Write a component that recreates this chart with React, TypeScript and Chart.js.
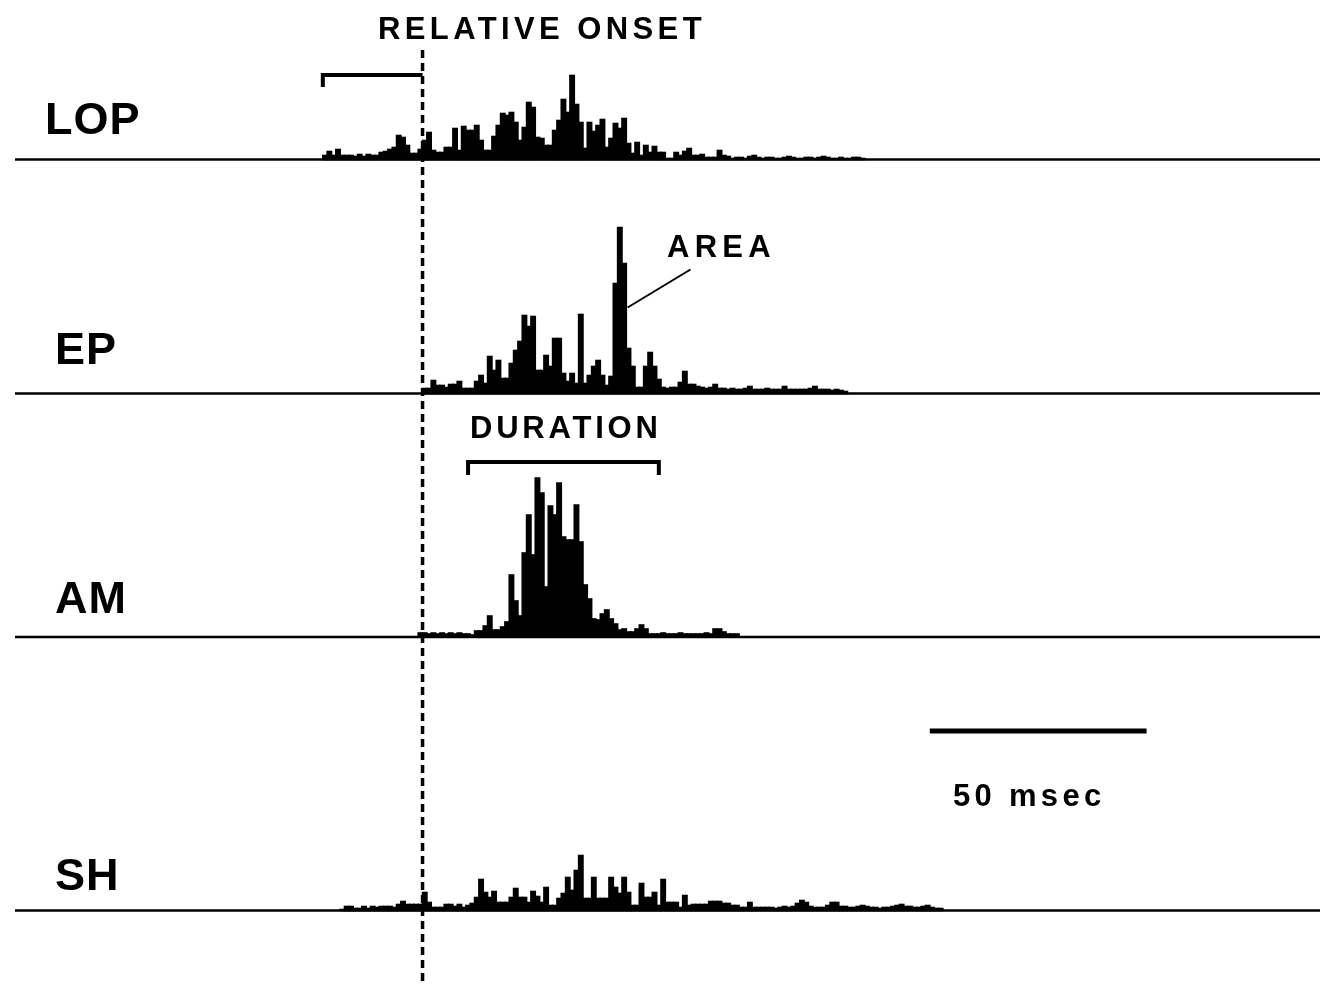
import React, { useEffect, useRef } from "react";
import { Chart, registerables } from "chart.js";

Chart.register(...registerables);

// ---- time axis (ms, relative to the onset) ----
const axisStartMs = -94;
const axisEndMs = 207;
const binMs = 1;

// ---- trace names ----
const traceNames = ["LOP", "EP", "AM", "SH"];

// ---- spike counts per 1 ms bin ----
const lopStartMs = -23;
const lopCounts = [
  4, 8, 4, 10, 4, 4, 4, 3, 5, 3, 5, 4, 4, 7, 8, 10, 12, 24, 22, 14, 6, 6, 10,
  19, 27, 9, 7, 7, 12, 12, 31, 9, 33, 29, 29, 34, 19, 9, 9, 23, 34, 46, 44, 47, 37, 19, 32, 57, 52, 22,
  21, 14, 14, 29, 39, 60, 47, 84, 55, 37, 11, 37, 28, 34, 40, 12, 21, 36, 31, 41, 16, 6, 17, 4, 14,
  7, 13, 7, 7, 1, 1, 7, 4, 8, 11, 4, 4, 5, 2, 2, 2, 9, 4, 3, 1,
  2, 2, 1, 3, 4, 2, 1, 2, 2, 1, 1, 2, 3, 2, 1, 1, 2, 2, 1, 2, 3, 2, 1, 1, 2, 1, 1, 2, 2, 1,
];

const epStartMs = 0;
const epCounts = [
  5, 5, 13, 8, 8, 6, 9, 9, 12, 5, 5, 5, 12, 18, 10, 37, 23, 33, 15, 15, 30, 43, 52, 78, 67, 77,
  23, 23, 38, 27, 55, 55, 20, 12, 20, 10, 79, 10, 18, 27, 33, 18, 8, 17, 110, 166, 130, 45, 27,
  6, 6, 27, 41, 27, 14, 6, 5, 6, 6, 11, 22, 9, 9, 7, 6, 5, 6, 9, 5, 5, 4, 5, 4, 4, 5, 7, 4, 4, 4,
  5, 4, 4, 4, 7, 4, 4, 4, 4, 4, 5, 7, 4, 4, 4, 3, 4, 3, 2,
];

const amStartMs = -1;
const amCounts = [
  4, 4, 3, 4, 3, 4, 3, 4, 3, 4, 3, 3,
  2, 6, 6, 11, 21, 7, 7, 10, 15, 62, 36, 21, 84, 122, 82, 159, 144, 50, 131, 122, 154, 100, 97, 97,
  132, 95, 52, 38, 18, 17, 23, 27, 18, 13, 7, 8, 5, 5, 8, 12, 8,
  3, 3, 3, 4, 3, 3, 3, 4, 3, 3, 3, 3, 3, 4, 3, 8, 8, 5, 3, 3, 3,
];

const shStartMs = -19;
const shCounts = [
  1, 4, 4, 2, 2, 4, 2, 4, 3, 4, 4, 4, 3, 6, 9, 6, 6, 6, 6,
  18, 8, 3, 3, 3, 6, 6, 4, 6, 3, 5, 7, 13, 31, 18, 13, 19, 8, 8, 8, 13, 22, 13, 13, 8, 19, 14, 8,
  23, 5, 5, 12, 17, 33, 20, 40, 55, 12, 12, 33, 12, 12, 12, 33, 23, 17, 33, 18, 5, 5, 27, 13, 13,
  18, 5, 31, 8, 8, 8, 3, 15, 5, 6, 6, 6, 6, 9, 9, 9, 7, 7, 5, 5, 3, 3, 8, 3, 3, 3,
  3, 3, 2, 3, 4, 3, 4, 7, 10, 8, 4, 3, 3, 3, 5, 8, 8, 4, 4, 3, 3, 4, 5, 4, 3, 3, 2, 3, 3, 4, 5,
  6, 4, 4, 3, 3, 4, 5, 3, 2, 2,
];

// ---- annotation values (ms) ----
const lopOnsetMs = -23;
const durationStartMs = 10.5;
const durationEndMs = 54.5;
const scaleBarStartMs = 117;
const scaleBarLengthMs = 50;
const areaLabelPoint = { ms: 61.8, count: 124 };
const areaTargetPoint = { ms: 47.3, count: 86 };

// ---- layout ----
const W = 1325;
const H = 986;
const baselinesPx = [159.5, 393.5, 637, 910.5];
const pxPerCount = 1;
const FONT = "'Liberation Sans', Arial, Helvetica, sans-serif";

const traceData = [
  { start: lopStartMs, counts: lopCounts },
  { start: epStartMs, counts: epCounts },
  { start: amStartMs, counts: amCounts },
  { start: shStartMs, counts: shCounts },
];

export default function App() {
  const ref = useRef<HTMLCanvasElement>(null);

  useEffect(() => {
    const canvas = ref.current;
    if (!canvas) return;
    const ids = traceNames.map((n) => "y" + n);
    const scales: any = {
      x: {
        type: "linear",
        min: axisStartMs,
        max: axisEndMs,
        display: false,
        offset: false,
        grid: { offset: false },
      },
    };
    ids.forEach((id, i) => {
      const b = baselinesPx[i];
      scales[id] = {
        type: "linear",
        display: false,
        min: -(H - b) / pxPerCount,
        max: b / pxPerCount,
      };
    });

    const overlay = {
      id: "overlay",
      afterDatasetsDraw(chart: any) {
        const ctx = chart.ctx;
        const xs = chart.scales.x;
        ctx.save();
        ctx.strokeStyle = "#000";
        ctx.lineCap = "butt";
        const line = (x1: number, y1: number, x2: number, y2: number) => {
          ctx.beginPath();
          ctx.moveTo(x1, y1);
          ctx.lineTo(x2, y2);
          ctx.stroke();
        };
        // baselines
        ctx.lineWidth = 2.5;
        ids.forEach((id) => {
          const y = chart.scales[id].getPixelForValue(0);
          line(xs.left, y, xs.right, y);
        });
        // onset dashed line
        const x0 = xs.getPixelForValue(0);
        ctx.setLineDash([8, 5]);
        ctx.lineWidth = 3.5;
        line(x0, 50, x0, H);
        ctx.setLineDash([]);
        // LOP onset bracket
        ctx.lineWidth = 4;
        const xl = xs.getPixelForValue(lopOnsetMs);
        ctx.beginPath();
        ctx.moveTo(xl, 87);
        ctx.lineTo(xl, 75);
        ctx.lineTo(x0, 75);
        ctx.stroke();
        // duration bracket
        const xd1 = xs.getPixelForValue(durationStartMs);
        const xd2 = xs.getPixelForValue(durationEndMs);
        ctx.beginPath();
        ctx.moveTo(xd1, 475);
        ctx.lineTo(xd1, 462);
        ctx.lineTo(xd2, 462);
        ctx.lineTo(xd2, 475);
        ctx.stroke();
        // scale bar
        ctx.lineWidth = 5;
        line(
          xs.getPixelForValue(scaleBarStartMs),
          731,
          xs.getPixelForValue(scaleBarStartMs + scaleBarLengthMs),
          731
        );
        // AREA pointer
        const ye = chart.scales[ids[1]];
        ctx.lineWidth = 2;
        line(
          xs.getPixelForValue(areaLabelPoint.ms),
          ye.getPixelForValue(areaLabelPoint.count),
          xs.getPixelForValue(areaTargetPoint.ms),
          ye.getPixelForValue(areaTargetPoint.count)
        );
        ctx.restore();
      },
    };

    const chart = new Chart(canvas, {
      type: "bar",
      data: {
        datasets: traceData.map((t, i) => ({
          label: traceNames[i],
          data: t.counts.map((c, k) => ({ x: t.start + k * binMs + binMs / 2, y: c })),
          yAxisID: ids[i],
          backgroundColor: "#000",
          borderWidth: 0,
          barPercentage: 1,
          categoryPercentage: 1,
          inflateAmount: 0.8,
          grouped: false,
        })) as any,
      },
      options: {
        animation: false,
        responsive: false,
        maintainAspectRatio: false,
        layout: { padding: { left: 15, right: 5, top: 0, bottom: 0 } },
        plugins: { legend: { display: false }, tooltip: { enabled: false } },
        scales,
      },
      plugins: [overlay],
    });
    return () => chart.destroy();
  }, []);

  const label = (
    text: string,
    left: number,
    cy: number,
    size: number,
    spacing: number
  ) => (
    <div
      key={text}
      style={{
        position: "absolute",
        left,
        top: cy - size / 2,
        fontFamily: FONT,
        fontWeight: 700,
        fontSize: size,
        lineHeight: `${size}px`,
        letterSpacing: spacing,
        color: "#000",
        whiteSpace: "nowrap",
      }}
    >
      {text}
    </div>
  );

  return (
    <div
      style={{
        position: "absolute",
        left: 0,
        top: 0,
        width: W,
        height: H,
        overflow: "hidden",
        background: "#fff",
      }}
    >
      <canvas ref={ref} width={W} height={H} style={{ width: W, height: H, display: "block" }} />
      {label("RELATIVE ONSET", 378, 28, 31, 4.4)}
      {label(traceNames[0], 45, 118, 45, 1)}
      {label(traceNames[1], 55, 348, 45, 1)}
      {label("AREA", 667, 246, 31, 5.3)}
      {label("DURATION", 470, 427, 31, 3.8)}
      {label(traceNames[2], 55, 597, 45, 1)}
      {label("50 msec", 953, 795, 31, 4.3)}
      {label(traceNames[3], 55, 874, 45, 1)}
    </div>
  );
}
